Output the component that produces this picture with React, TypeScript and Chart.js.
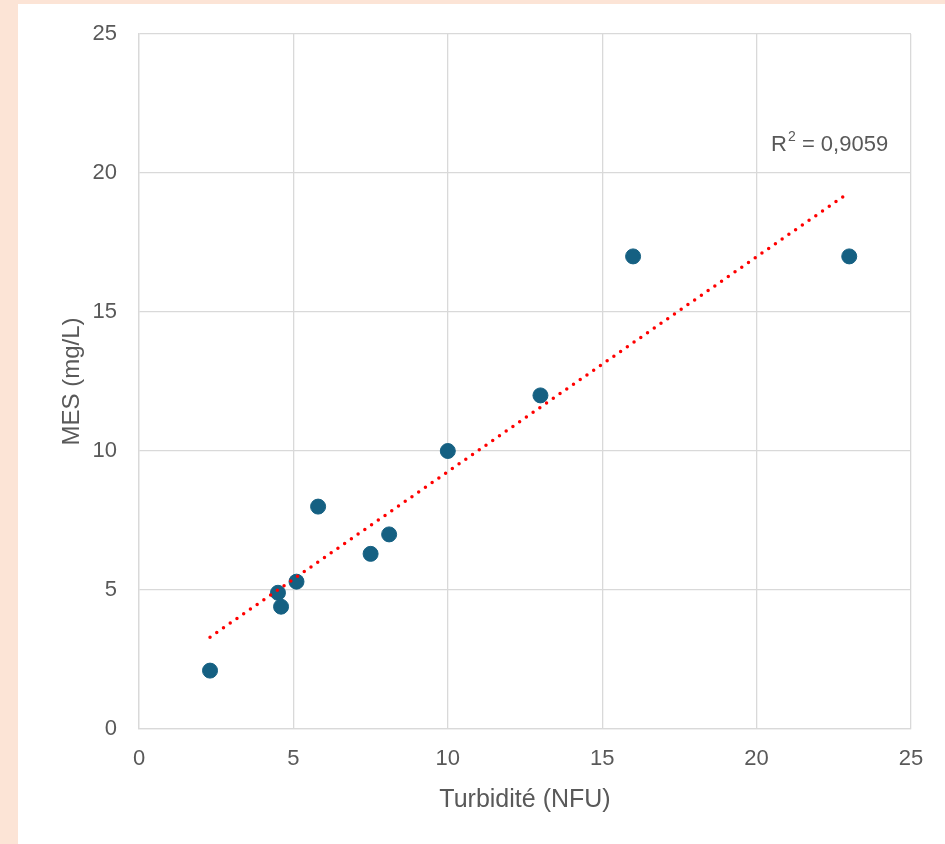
import React, { useEffect, useRef } from "react";
import { Chart, registerables } from "chart.js";

Chart.register(...registerables);

const turbidity = [2.3, 4.5, 4.6, 5.1, 5.8, 7.5, 8.1, 10, 13, 16, 23];
const mes = [2.1, 4.9, 4.4, 5.3, 8, 6.3, 7, 10, 12, 17, 17];
const axisTicks = [0, 5, 10, 15, 20, 25];
const xTitle = "Turbidité (NFU)";
const yTitle = "MES (mg/L)";
const r2Label = { base: "R", sup: "2", rest: " = 0,9059", x: 20.47, y: 21.0 };

const FONT = "'Liberation Sans', Arial, sans-serif";
const TEXT = "#595959";
const GRID = "#d9d9d9";

function regression(xs: number[], ys: number[]) {
  const n = xs.length;
  const mx = xs.reduce((a, b) => a + b, 0) / n;
  const my = ys.reduce((a, b) => a + b, 0) / n;
  let sxy = 0, sxx = 0;
  for (let i = 0; i < n; i++) {
    sxy += (xs[i] - mx) * (ys[i] - my);
    sxx += (xs[i] - mx) ** 2;
  }
  const slope = sxy / sxx;
  return { slope, intercept: my - slope * mx };
}

const r2Plugin = {
  id: "r2label",
  afterDatasetsDraw(chart: any) {
    const { ctx, scales } = chart;
    const px = scales.x.getPixelForValue(r2Label.x);
    const py = scales.y.getPixelForValue(r2Label.y);
    ctx.save();
    ctx.fillStyle = TEXT;
    ctx.textBaseline = "middle";
    ctx.textAlign = "left";
    ctx.font = `22px ${FONT}`;
    ctx.fillText(r2Label.base, px, py);
    let w = ctx.measureText(r2Label.base).width;
    ctx.font = `14px ${FONT}`;
    ctx.fillText(r2Label.sup, px + w + 1, py - 8);
    w += ctx.measureText(r2Label.sup).width + 1;
    ctx.font = `22px ${FONT}`;
    ctx.fillText(r2Label.rest, px + w, py);
    ctx.restore();
  },
};

export default function App() {
  const ref = useRef<HTMLCanvasElement>(null);
  useEffect(() => {
    if (!ref.current) return;
    const { slope, intercept } = regression(turbidity, mes);
    const xmin = Math.min(...turbidity);
    const xmax = Math.max(...turbidity);
    const trend = [
      { x: xmin, y: slope * xmin + intercept },
      { x: xmax, y: slope * xmax + intercept },
    ];
    const points = turbidity.map((x, i) => ({ x, y: mes[i] }));
    const common = (title: string) => ({
      type: "linear" as const,
      min: axisTicks[0],
      max: axisTicks[axisTicks.length - 1],
      afterBuildTicks: (s: any) => {
        s.ticks = axisTicks.map((v) => ({ value: v }));
      },
      ticks: {
        font: { family: FONT, size: 22 },
        color: TEXT,
      },
      grid: { color: GRID, lineWidth: 1.3, drawTicks: false },
      border: { color: GRID, width: 1.3 },
      title: {
        display: true,
        text: title,
        color: TEXT,
        font: { family: FONT, size: 24 },
      },
    });
    const xs: any = common(xTitle);
    xs.ticks.padding = 17;
    xs.title.font.size = 25;
    xs.title.padding = { top: 0, bottom: 29 };
    xs.afterFit = (s: any) => {
      s.height = 115;
      s.paddingLeft = 0;
      s.paddingRight = 0;
    };
    const ys: any = common(yTitle);
    ys.ticks.padding = 22;
    ys.title.padding = { top: 40, bottom: 0 };
    ys.afterFit = (s: any) => {
      s.width = 121;
      s.paddingTop = 0;
      s.paddingBottom = 0;
    };

    const chart = new Chart(ref.current, {
      type: "scatter",
      data: {
        datasets: [
          {
            type: "line",
            data: trend,
            borderColor: "#ff0000",
            borderWidth: 3.5,
            borderDash: [0, 8.2],
            borderCapStyle: "round",
            pointRadius: 0,
            fill: false,
          } as any,
          {
            data: points,
            backgroundColor: "#156082",
            borderColor: "#156082",
            pointRadius: 7.5,
            pointHoverRadius: 7.5,
          },
        ],
      },
      options: {
        responsive: false,
        animation: false,
        layout: { padding: { left: 0, top: 30, right: 34, bottom: 0 } },
        plugins: { legend: { display: false }, tooltip: { enabled: false } },
        scales: { x: xs, y: ys },
      },
      plugins: [r2Plugin],
    });
    return () => chart.destroy();
  }, []);
  return (
    <div style={{ position: "fixed", left: 0, top: 0, width: 945, height: 844, background: "#fce4d6" }}>
      <div style={{ position: "absolute", left: 18, top: 4, width: 927, height: 840, background: "#ffffff" }}>
        <canvas ref={ref} width={927} height={840} style={{ display: "block" }} />
      </div>
    </div>
  );
}
